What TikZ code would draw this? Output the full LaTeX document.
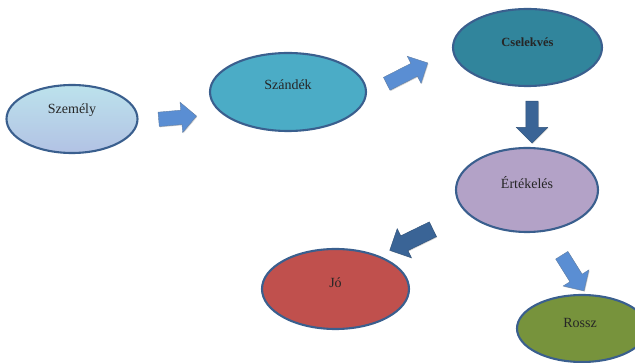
\documentclass[tikz,border=0pt]{standalone}
\usepackage{fontspec}
\setmainfont{Liberation Serif}
\usetikzlibrary{shapes.geometric,shapes.arrows,shadows}

\definecolor{rim}{HTML}{3A5F8E}
\definecolor{ink}{HTML}{262626}
\definecolor{paletop}{HTML}{BCE2EC}
\definecolor{palebot}{HTML}{B2C2E4}
\definecolor{sky}{HTML}{4BACC6}
\definecolor{teal}{HTML}{31859C}
\definecolor{lilac}{HTML}{B3A2C7}
\definecolor{brick}{HTML}{C0504D}
\definecolor{olive}{HTML}{77933C}
\definecolor{lightarrow}{HTML}{5A8ED3}
\definecolor{darkarrow}{HTML}{3A6496}

\begin{document}
\begin{tikzpicture}[x=1pt,y=-1pt,
  blob/.style={ellipse, draw=rim, line width=2.1pt, inner sep=0pt},
  word/.style={font=\fontsize{14}{16}\selectfont, text=ink},
  flow/.style={single arrow, inner xsep=0pt, single arrow tip angle=90,
    draw=rim!80, line width=0.4pt,
    drop shadow={shadow xshift=0.8pt, shadow yshift=-0.8pt, opacity=0.35}},
  flowlight/.style={flow, fill=lightarrow},
  flowdark/.style={flow, fill=darkarrow, draw=darkarrow!80!black}]

  \useasboundingbox (0,0) rectangle (635,363);

  % the six stages
  \node[blob, minimum width=131pt, minimum height=68pt,
        top color=paletop, bottom color=palebot] (szemely) at (72,119) {};
  \node[word] (szemelyt) at (72,110) {Személy};

  \node[blob, fill=sky, minimum width=156pt, minimum height=78pt] (szandek) at (288,92) {};
  \node[word] (szandekt) at (288,85) {Szándék};

  \node[blob, fill=teal, minimum width=149pt, minimum height=77pt] (cselekves) at (527.5,47.5) {};
  \node[word, font=\bfseries\fontsize{12.5}{14}\selectfont] (cselekvest) at (527.5,42) {Cselekvés};

  \node[blob, fill=lilac, minimum width=142pt, minimum height=84pt] (ertekeles) at (527,190) {};
  \node[word] (ertekelest) at (527,183) {Értékelés};

  \node[blob, fill=brick, minimum width=147pt, minimum height=80pt] (jo) at (335.5,289) {};
  \node[word] (jot) at (335.5,283) {Jó};

  \node[blob, fill=olive, minimum width=130pt, minimum height=67pt] (rossz) at (582,328.5) {};
  \node[word] (rosszt) at (580,323) {Rossz};

  % block arrows between the stages
  \node[flowlight, minimum height=38pt, inner ysep=7pt, single arrow head extend=8pt,
        rotate=5] (a1) at (174,118) {};
  \node[flowlight, minimum height=46pt, inner ysep=7pt, single arrow head extend=8pt,
        rotate=27] (a2) at (404,75) {};
  \node[flowdark, minimum height=42pt, inner ysep=6pt, single arrow head extend=9.5pt,
        rotate=-90] (a3) at (532,119) {};
  \node[flowdark, minimum height=48pt, inner ysep=8pt, single arrow head extend=8pt,
        rotate=206] (a4) at (415,238) {};
  \node[flowlight, minimum height=42pt, inner ysep=7pt, single arrow head extend=8pt,
        rotate=-58] (a5) at (571,270) {};
\end{tikzpicture}
\end{document}
